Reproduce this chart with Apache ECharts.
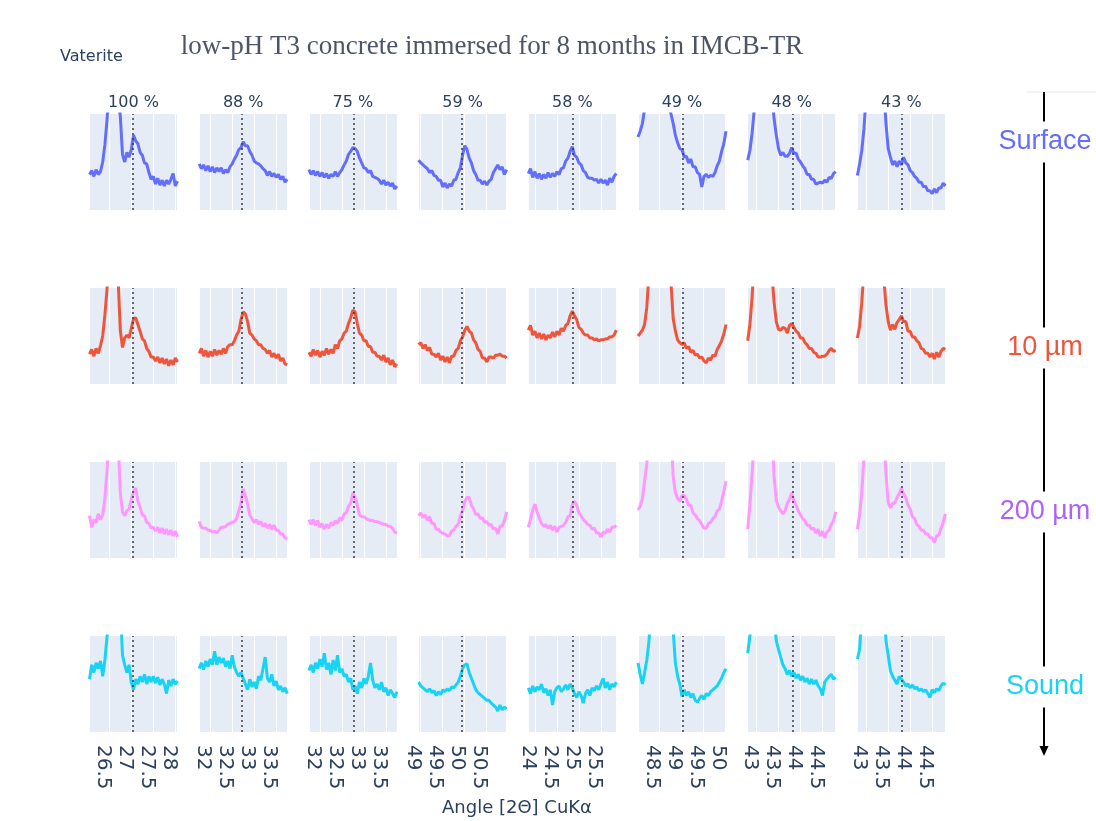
<!DOCTYPE html>
<html>
<head>
<meta charset="utf-8">
<script src="https://cdn.jsdelivr.net/npm/echarts@6/dist/echarts.min.js"></script>
<style>
  html, body { margin: 0; padding: 0; background: #fff; }
  #chart { width: 1096px; height: 821px; }
</style>
</head>
<body>
<div id="chart"></div>
<script>
// column titles (vaterite fraction) and depth rows
var ratios = ['100 %', '88 %', '75 %', '59 %', '58 %', '49 %', '48 %', '43 %'];
var depths = ['Surface', '10 µm', '200 µm', 'Sound'];

// 2theta scan points for each window
var angles27 = [26.05,26.10,26.15,26.20,26.25,26.30,26.35,26.40,26.45,26.50,26.55,26.60,26.65,26.70,26.75,26.80,26.85,26.90,26.95,27.00,27.05,27.10,27.15,27.20,27.25,27.30,27.35,27.40,27.45,27.50,27.55,27.60,27.65,27.70,27.75,27.80,27.85,27.90,27.95,28.00,28.05];
var angles33 = [31.75,31.80,31.85,31.90,31.95,32.00,32.05,32.10,32.15,32.20,32.25,32.30,32.35,32.40,32.45,32.50,32.55,32.60,32.65,32.70,32.75,32.80,32.85,32.90,32.95,33.00,33.05,33.10,33.15,33.20,33.25,33.30,33.35,33.40,33.45,33.50,33.55,33.60,33.65,33.70,33.75];
var angles50 = [48.97,49.02,49.07,49.12,49.17,49.22,49.27,49.32,49.37,49.42,49.47,49.52,49.57,49.62,49.67,49.72,49.77,49.82,49.87,49.92,49.97,50.02,50.07,50.12,50.17,50.22,50.27,50.32,50.37,50.42,50.47,50.52,50.57,50.62,50.67,50.72,50.77,50.82,50.87,50.92,50.97];
var angles25 = [23.85,23.90,23.95,24.00,24.05,24.10,24.15,24.20,24.25,24.30,24.35,24.40,24.45,24.50,24.55,24.60,24.65,24.70,24.75,24.80,24.85,24.90,24.95,25.00,25.05,25.10,25.15,25.20,25.25,25.30,25.35,25.40,25.45,25.50,25.55,25.60,25.65,25.70,25.75,25.80,25.85];
var angles49 = [48.02,48.07,48.12,48.17,48.22,48.27,48.32,48.37,48.42,48.47,48.52,48.57,48.62,48.67,48.72,48.77,48.82,48.87,48.92,48.97,49.02,49.07,49.12,49.17,49.22,49.27,49.32,49.37,49.42,49.47,49.52,49.57,49.62,49.67,49.72,49.77,49.82,49.87,49.92,49.97,50.02];
var angles44 = [42.80,42.85,42.90,42.95,43.00,43.05,43.10,43.15,43.20,43.25,43.30,43.35,43.40,43.45,43.50,43.55,43.60,43.65,43.70,43.75,43.80,43.85,43.90,43.95,44.00,44.05,44.10,44.15,44.20,44.25,44.30,44.35,44.40,44.45,44.50,44.55,44.60,44.65,44.70,44.75,44.80];
var columnAngles = [angles27, angles33, angles33, angles50, angles25, angles49, angles44, angles44];

// vaterite reference peaks (dotted lines)
var vateritePeaks = [27.04, 32.72, 32.76, 49.96, 24.86, 49.03, 43.82, 43.80];

// intensities, scaled so 0..100 fills each small panel (values above 100 run off the top)
var surface = [
  [37,41,35,42,37,40,50,68,95,130,140,140,135,115,98,58,50,60,55,63,78,72,69,60,57,49,48,39,32,35,27,33,26,31,25,31,27,32,38,25,30],
  [48,43,47,41,46,40,45,39,44,40,44,38,42,39,45,48,53,57,63,65,71,67,67,61,57,51,49,48,46,43,41,36,40,35,38,34,37,32,35,29,32],
  [42,37,41,36,40,35,39,34,38,33,37,35,40,35,39,42,47,51,58,61,65,64,61,54,49,44,43,39,41,35,34,33,31,27,31,26,29,25,28,22,25],
  [52,49,47,45,43,39,41,36,35,31,31,24,28,23,27,25,31,32,39,44,57,67,63,54,49,41,37,31,31,27,30,26,30,32,39,43,47,42,45,37,42],
  [38,43,34,40,33,38,32,37,33,39,34,38,35,40,37,43,44,51,54,61,66,57,55,49,47,41,39,34,33,33,31,32,28,32,28,31,26,33,29,35,38],
  [76,82,90,105,130,140,140,140,140,140,140,140,140,125,110,100,90,78,70,64,63,55,56,49,53,45,45,39,37,24,35,37,34,36,35,39,46,51,61,69,82],
  [52,62,80,105,140,140,140,140,140,140,140,120,95,78,64,57,60,56,56,59,65,59,59,53,50,46,43,37,37,32,32,27,28,29,28,31,29,34,33,38,40],
  [36,48,62,85,120,140,140,140,140,140,140,140,125,90,64,55,47,51,45,51,47,55,49,47,41,39,35,33,29,29,24,25,20,20,17,22,18,23,23,28,25]
];
var tenMicrons = [
  [31,36,29,37,32,40,50,72,100,140,140,140,140,110,56,38,48,51,48,58,68,69,62,55,47,45,37,34,28,28,24,28,22,27,21,26,19,25,20,27,23],
  [32,37,29,35,28,34,29,36,30,35,31,37,32,39,41,41,45,51,55,67,75,73,65,53,51,47,45,41,41,37,36,32,35,28,32,27,31,24,27,21,20],
  [33,29,36,30,35,28,34,30,37,31,36,32,41,37,45,47,53,55,63,69,77,75,63,53,51,45,45,39,39,33,33,29,29,25,30,23,27,20,25,18,21],
  [41,43,37,41,35,38,31,31,28,32,25,29,23,28,22,29,29,35,37,45,49,56,60,55,53,46,43,36,34,27,27,23,28,28,27,30,30,31,29,29,27],
  [56,61,51,55,48,53,47,52,46,51,48,54,49,55,51,58,55,61,63,71,76,71,67,59,57,53,51,51,48,48,46,47,45,46,46,47,47,49,49,51,56],
  [50,53,56,62,80,115,140,140,140,140,140,140,140,140,140,105,68,55,46,43,41,43,37,39,33,35,30,31,27,28,24,22,27,25,30,29,36,40,45,52,62],
  [45,62,90,130,140,140,140,140,140,140,140,115,85,65,57,56,59,58,53,61,63,59,55,53,48,48,43,41,37,37,33,32,28,28,29,29,31,35,37,34,35],
  [48,60,85,120,140,140,140,140,140,140,140,135,110,82,65,56,62,57,64,67,71,65,65,55,55,49,49,45,43,37,36,32,32,28,32,26,33,28,34,37,36]
];
var twoHundredMicrons = [
  [44,32,40,37,46,40,45,62,92,130,140,140,140,125,68,48,44,49,51,61,69,73,59,53,45,44,37,36,31,32,28,32,26,31,25,30,24,29,23,28,22],
  [38,32,31,31,29,29,27,28,26,29,32,32,33,35,36,37,38,41,49,57,72,65,56,45,41,37,40,35,38,33,36,31,35,30,34,29,29,25,25,21,20],
  [40,35,40,34,39,32,36,30,35,31,37,34,39,36,42,39,46,47,54,57,68,63,55,45,43,43,41,40,39,39,38,38,37,36,35,35,33,33,31,27,26],
  [44,47,42,45,39,43,36,36,30,30,27,26,25,23,23,28,29,33,35,44,49,59,63,63,55,51,45,46,41,42,37,38,34,35,30,31,25,33,33,39,48],
  [32,40,50,56,48,42,36,33,35,31,34,29,33,27,32,33,34,37,43,44,56,59,55,47,44,40,38,35,34,30,31,26,26,22,27,26,30,27,32,32,34],
  [50,54,62,80,98,130,140,140,140,140,140,140,140,140,140,130,85,68,62,59,65,65,61,55,55,47,45,41,39,35,31,31,36,37,41,43,49,51,59,69,80],
  [30,55,88,125,140,140,140,140,140,140,140,130,85,60,53,49,46,49,57,61,68,59,55,49,45,41,39,34,34,30,31,26,30,23,28,21,27,29,35,39,48],
  [30,45,68,105,135,140,140,140,140,140,140,140,125,88,58,52,57,57,63,67,73,67,63,55,51,43,41,35,33,29,29,25,25,21,21,16,23,24,31,37,46]
];
var sound = [
  [55,70,62,72,66,74,58,75,100,140,140,140,140,140,130,80,70,62,70,52,44,55,50,58,52,60,50,58,52,58,51,57,49,55,50,40,54,48,55,50,53],
  [66,72,65,74,68,76,70,84,70,78,72,77,68,74,66,80,68,62,58,62,56,50,44,55,47,52,45,58,54,66,78,56,52,60,48,53,44,48,42,46,40],
  [64,70,62,72,66,76,68,82,65,72,60,75,64,80,62,66,58,60,52,56,44,48,40,52,46,56,50,58,72,54,46,50,44,52,42,46,38,44,40,36,42],
  [52,48,46,44,42,45,41,43,38,42,39,44,42,45,43,47,46,49,52,58,66,70,71,62,56,50,44,41,39,37,35,33,33,30,28,26,22,28,23,26,24],
  [46,40,48,42,47,44,50,41,45,38,44,28,42,46,48,42,45,49,44,50,46,40,36,42,38,30,40,44,38,46,43,48,44,50,56,46,52,44,50,47,52],
  [72,60,50,62,75,95,130,140,140,140,140,140,140,140,140,140,105,72,58,50,37,44,38,42,36,40,33,31,35,38,34,40,38,42,44,46,48,52,56,62,66],
  [82,100,130,140,140,140,140,140,140,140,140,140,120,95,86,78,70,66,60,64,58,62,56,60,54,58,52,56,50,55,50,54,48,45,38,52,55,58,60,55,57],
  [76,86,120,140,140,140,140,140,140,140,140,140,135,95,80,64,58,54,50,58,55,52,48,50,46,49,45,47,43,45,42,44,40,36,44,41,45,43,48,51,49]
];

var rows = [surface, tenMicrons, twoHundredMicrons, sound];
var rowColors = ['#636EFA', '#EF553B', '#FF97FF', '#19D3F3'];
var depthColors = ['#636EFA', '#EF553B', '#AB63FA', '#19D3F3'];
var rowTops = [114, 288, 462, 636];
var panelLeft = 89.5, panelStep = 109.7, panelW = 88, panelH = 96;
var textColor = '#2a3f5f';

var chart = echarts.init(document.getElementById('chart'));

var grids = [], xAxes = [], yAxes = [], series = [];
rows.forEach(function (row, r) {
  row.forEach(function (vals, c) {
    var k = r * 8 + c;
    var ang = columnAngles[c];
    grids.push({
      left: panelLeft + c * panelStep, top: rowTops[r], width: panelW, height: panelH,
      show: true, backgroundColor: '#E5ECF6', borderWidth: 0,
      containLabel: false, outerBoundsMode: 'none'
    });
    xAxes.push({
      type: 'value', gridIndex: k,
      min: ang[0], max: ang[ang.length - 1], splitNumber: 4,
      axisLine: { show: false }, axisTick: { show: false },
      splitLine: { show: true, lineStyle: { color: '#ffffff', width: 1 } },
      axisLabel: {
        show: r === 3, rotate: -90, margin: 13,
        fontSize: 20, fontFamily: 'DejaVu Sans', color: textColor,
        verticalAlign: 'top', lineHeight: 13,
        showMinLabel: false, showMaxLabel: false
      }
    });
    yAxes.push({ type: 'value', gridIndex: k, min: 0, max: 100, show: false });
    series.push({
      type: 'line', xAxisIndex: k, yAxisIndex: k,
      data: ang.map(function (a, i) { return [a, vals[i]]; }),
      showSymbol: false, clip: true,
      lineStyle: { color: rowColors[r], width: 3 },
      itemStyle: { color: rowColors[r] },
      markLine: {
        silent: true, symbol: ['none', 'none'],
        label: { show: false },
        lineStyle: { color: '#3a3a3a', type: [2, 3], width: 1.5 },
        data: [{ xAxis: vateritePeaks[c] }]
      }
    });
  });
});

var graphics = [
  { type: 'text', x: 492, y: 47, style: { text: 'low-pH T3 concrete immersed for 8 months in IMCB-TR', font: '27px "Liberation Serif"', fill: '#4b5567', align: 'center', verticalAlign: 'middle' } },
  { type: 'text', x: 60, y: 57, style: { text: 'Vaterite', font: '16px "DejaVu Sans"', fill: textColor, align: 'left', verticalAlign: 'middle' } },
  { type: 'text', x: 517, y: 808, style: { text: 'Angle [2Θ] CuKα', font: '18px "DejaVu Sans"', fill: textColor, align: 'center', verticalAlign: 'middle' } },
  { type: 'line', shape: { x1: 1027, y1: 92, x2: 1096, y2: 92 }, style: { stroke: '#e6e6e6', lineWidth: 1 } },
  { type: 'line', shape: { x1: 1044, y1: 92, x2: 1044, y2: 748 }, style: { stroke: '#000', lineWidth: 2 } },
  { type: 'polygon', shape: { points: [[1039.5, 746], [1048.5, 746], [1044, 756]] }, style: { fill: '#000' } }
];
ratios.forEach(function (t, c) {
  graphics.push({ type: 'text', x: panelLeft + c * panelStep + panelW / 2, y: 103,
    style: { text: t, font: '16px "DejaVu Sans"', fill: textColor, align: 'center', verticalAlign: 'middle' } });
});
var depthY = [142, 348, 512, 687];
depths.forEach(function (t, r) {
  graphics.push({ type: 'text', x: 1045, y: depthY[r], z: 10,
    style: { text: t, font: '27px "Liberation Sans"', fill: depthColors[r], align: 'center', verticalAlign: 'middle',
      backgroundColor: '#ffffff', padding: [7, 3] } });
});

chart.setOption({
  animation: false,
  backgroundColor: '#ffffff',
  grid: grids,
  xAxis: xAxes,
  yAxis: yAxes,
  series: series,
  graphic: graphics
});
</script>
</body>
</html>
